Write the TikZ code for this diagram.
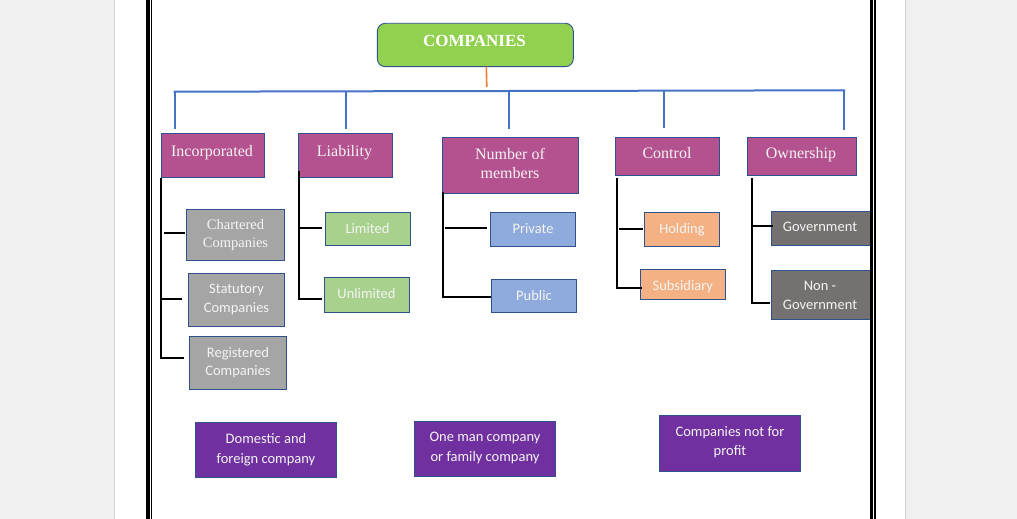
\documentclass[tikz,border=0pt]{standalone}
\usepackage{fontspec}
\setmainfont{Liberation Serif}
\newfontfamily\calib{Carlito}
\definecolor{pagegray}{HTML}{F0F0F0}
\definecolor{edgegray}{HTML}{D4D4D4}
\definecolor{outl}{HTML}{2F528F}
\definecolor{cgreen}{HTML}{92D050}
\definecolor{cmag}{HTML}{B4528F}
\definecolor{cgray}{HTML}{A5A5A5}
\definecolor{clgreen}{HTML}{A9D18E}
\definecolor{cblue}{HTML}{8FAADC}
\definecolor{corange}{HTML}{F4B183}
\definecolor{cdgray}{HTML}{767171}
\definecolor{cpurple}{HTML}{7030A0}
\definecolor{lineblue}{HTML}{4472C4}
\definecolor{lineorange}{HTML}{ED7D31}
\definecolor{txtwhite}{HTML}{F4F4F4}
\newcommand\mybox[6]{\node[#2, minimum width={(#5)-(#3)}, minimum height={(#6)-(#4)}] (#1) at ({((#3)+(#5))/2},{((#4)+(#6))/2}) {};}
\begin{document}
\begin{tikzpicture}[x=1pt,y=-1pt,
  box/.style={draw=outl, line width=0.9pt, inner sep=0pt, outer sep=0pt},
  topbox/.style={box, fill=cgreen, rounded corners=8pt},
  magbox/.style={box, fill=cmag},
  graybox/.style={box, fill=cgray},
  lgbox/.style={box, fill=clgreen},
  blbox/.style={box, fill=cblue},
  orbox/.style={box, fill=corange},
  dgbox/.style={box, fill=cdgray},
  pubox/.style={box, fill=cpurple},
  serif16/.style={text=txtwhite, anchor=base, inner sep=0pt, font=\fontsize{16}{19}\selectfont},
  serif14/.style={text=txtwhite, anchor=base, inner sep=0pt, font=\fontsize{14.5}{18}\selectfont},
  sans14/.style={text=txtwhite, anchor=base, inner sep=0pt, font=\calib\fontsize{14.5}{18}\selectfont},
  titletxt/.style={text=white, anchor=base, inner sep=0pt, font=\bfseries\fontsize{17}{20}\selectfont},
  bline/.style={draw=lineblue, line width=2pt},
  kline/.style={draw=black, line width=2pt},
  oline/.style={draw=lineorange, line width=1.6pt}]
\useasboundingbox (0,0) rectangle (1017,519);
\fill[pagegray] (0,0) rectangle (1017,519);
\fill[white] (114.5,0) rectangle (905.5,519);
\draw[edgegray, line width=1pt] (114.5,0) -- (114.5,519);
\draw[edgegray, line width=1pt] (905.5,0) -- (905.5,519);

% top
\mybox{top}{topbox}{377.3}{23.3}{573.3}{66.7}
\node[titletxt] (top-t) at (474.5,47) {COMPANIES};

% categories
\mybox{inc}{magbox}{161}{133.3}{264.7}{177.3}
\mybox{liab}{magbox}{298.3}{133.3}{392.7}{177.3}
\mybox{num}{magbox}{442.3}{137}{578.5}{193.3}
\mybox{ctrl}{magbox}{615}{137}{719.7}{175.7}
\mybox{own}{magbox}{747}{137}{856.7}{175.7}
\node[serif16] (inc-t) at (212,156) {Incorporated};
\node[serif16] (liab-t) at (344.5,156) {Liability};
\node[serif16] (num-t1) at (510,159) {Number of};
\node[serif16] (num-t2) at (510,178) {members};
\node[serif16] (ctrl-t) at (667,158.5) {Control};
\node[serif16] (own-t) at (801,158.5) {Ownership};

% Incorporated children
\mybox{char}{graybox}{186}{209.3}{284.3}{260.3}
\mybox{stat}{graybox}{188.3}{273.3}{284.3}{326.3}
\mybox{reg}{graybox}{189.3}{336.3}{286.7}{389.3}
\node[serif14] (char-t1) at (235.5,229.5) {Chartered};
\node[serif14] (char-t2) at (235.5,247.5) {Companies};
\node[sans14] (stat-t1) at (236.5,293) {Statutory};
\node[sans14] (stat-t2) at (236.5,312) {Companies};
\node[sans14] (reg-t1) at (238,357) {Registered};
\node[sans14] (reg-t2) at (238,375.5) {Companies};

% Liability children
\mybox{lim}{lgbox}{325}{212.3}{410.3}{245.3}
\mybox{unl}{lgbox}{324}{277.3}{409.3}{312.3}
\node[sans14] (lim-t) at (367.5,233) {Limited};
\node[sans14] (unl-t) at (366.5,298) {Unlimited};

% Number children
\mybox{priv}{blbox}{490}{212.3}{575.7}{246.3}
\mybox{pub}{blbox}{491}{279.3}{576.7}{312.3}
\node[sans14] (priv-t) at (533,233) {Private};
\node[sans14] (pub-t) at (534,300) {Public};

% Control children
\mybox{hold}{orbox}{644.3}{212.3}{719.3}{246.3}
\mybox{subs}{orbox}{640.3}{269.3}{725.3}{299.3}
\node[sans14] (hold-t) at (682,233) {Holding};
\node[sans14] (subs-t) at (682.8,290) {Subsidiary};

% Ownership children
\mybox{gov}{dgbox}{771}{211.7}{871}{245.3}
\mybox{ngov}{dgbox}{771}{270.3}{871}{319.3}
\node[sans14] (gov-t) at (820,231.5) {Government};
\node[sans14] (ngov-t1) at (820,290) {Non -};
\node[sans14] (ngov-t2) at (820,309) {Government};

% bottom boxes
\mybox{dom}{pubox}{195}{422.3}{336.7}{477.3}
\mybox{one}{pubox}{414}{421}{555.7}{476.7}
\mybox{npro}{pubox}{659}{415.7}{800.7}{471.7}
\node[sans14] (dom-t1) at (266,443) {Domestic and};
\node[sans14] (dom-t2) at (266,463) {foreign company};
\node[sans14] (one-t1) at (485,441.5) {One man company};
\node[sans14] (one-t2) at (485,461.5) {or family company};
\node[sans14] (npro-t1) at (730,436.5) {Companies not for};
\node[sans14] (npro-t2) at (730,455.5) {profit};

% blue tree
\coordinate (hl) at (174.5,91.7);
\coordinate (hr) at (844,90.3);
\coordinate (h2) at (346,91.3);
\coordinate (h3) at (509,91);
\coordinate (h4) at (664,90.7);
\draw[oline] ([xshift=11pt]top.south) -- (486.8,87) coordinate (oend);
\draw[bline] ([yshift=-1pt]hl) -- (hl) -- (h2) -- (h3) -- (h4) -- (hr) -- ([yshift=-1pt]hr);
\draw[bline] (hl) -- (174.5,129) coordinate (d1);
\draw[bline] (h2) -- (346,129) coordinate (d2);
\draw[bline] (h3) -- (509,129) coordinate (d3);
\draw[bline] (h4) -- (664,128) coordinate (d4);
\draw[bline] (hr) -- (844,130) coordinate (d5);

% black brackets (yshift is in canvas units: positive = up)
\draw[kline] ([xshift=-0.5pt,yshift=-0.7pt]inc.south west) -- (160.5,359.3) coordinate (incb);
\draw[kline] (164,232.7) -- ([xshift=-1pt,yshift=2.1pt]char.west);
\draw[kline] (160.5,299.3) -- ([xshift=-6.6pt,yshift=0.5pt]stat.west);
\draw[kline] (159.5,358.3) -- ([xshift=-5pt,yshift=4.5pt]reg.west);

\draw[kline] ([xshift=1pt,yshift=6.6pt]liab.south west) -- (299.3,300) coordinate (liabb);
\draw[kline] (299.3,227.7) -- ([xshift=-3.3pt,yshift=1.1pt]lim.west);
\draw[kline] (298.3,299) -- ([xshift=-2pt,yshift=-4.2pt]unl.west);

\draw[kline] ([xshift=1pt,yshift=1.6pt]num.south west) -- (443.3,297.7) coordinate (numb);
\draw[kline] (445,227.7) -- ([xshift=-2.7pt,yshift=1.6pt]priv.west);
\draw[kline] (442.3,296.7) -- ([yshift=-0.9pt]pub.west);

\draw[kline] ([xshift=1.7pt,yshift=-2.3pt]ctrl.south west) -- (616.7,289.3) coordinate (ctrlb);
\draw[kline] (619,229) -- ([xshift=-1pt,yshift=0.3pt]hold.west);
\draw[kline] (615.7,288.3) -- ([xshift=2pt,yshift=-4pt]subs.west);

\draw[kline] ([xshift=4.7pt,yshift=-2.3pt]own.south west) -- (751.7,304.3) coordinate (ownb);
\draw[kline] (751.7,226) -- ([xshift=1.7pt,yshift=2.5pt]gov.west);
\draw[kline] (750.7,303.3) -- ([xshift=-1pt,yshift=-8.5pt]ngov.west);

% page border lines
\draw[black, line width=4pt] (147.7,0) -- (147.7,519);
\draw[black, line width=1pt] (151.2,0) -- (151.2,519);
\draw[black, line width=3.3pt] (871.7,0) -- (871.7,519);
\draw[black, line width=1.3pt] (875,0) -- (875,519);
\end{tikzpicture}
\end{document}
